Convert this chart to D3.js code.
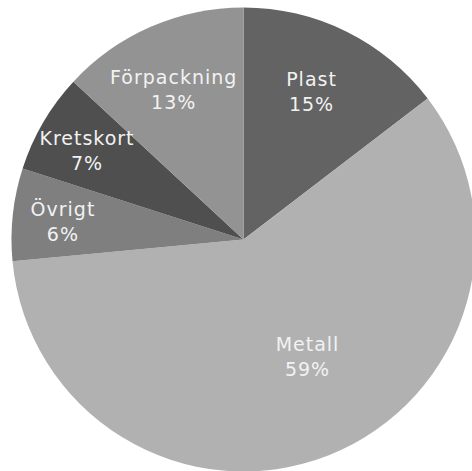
<!DOCTYPE html>
<html>
<head>
<meta charset="utf-8">
<script src="https://cdn.jsdelivr.net/npm/d3@7"></script>
<style>
html, body { margin: 0; padding: 0; background: #ffffff; overflow: hidden; }
svg { display: block; }
</style>
</head>
<body>
<script>
const categories = ["Plast", "Metall", "Övrigt", "Kretskort", "Förpackning"];
const values = [14.6, 58.9, 6.45, 6.95, 13.1];
const colors = ["#636363", "#b1b1b1", "#7f7f7f", "#4f4f4f", "#939393"];

const W = 472, H = 471;
const cx = 243.5, cy = 239.5, R = 232;

const svg = d3.select("body").append("svg").attr("width", W).attr("height", H);
const g = svg.append("g").attr("transform", `translate(${cx},${cy})`);

const data = categories.map((c, i) => ({ name: c, value: values[i], color: colors[i] }));
const total = d3.sum(values);

const pie = d3.pie().value(d => d.value).sort(null);
const arcs = pie(data);
const arc = d3.arc().innerRadius(0).outerRadius(R);

g.selectAll("path.slice").data(arcs).enter().append("path")
  .attr("class", "slice")
  .attr("d", arc)
  .attr("fill", d => d.data.color);

const fmt = v => Math.round(v / total * 100) + "%";

const labels = g.selectAll("g.label").data(arcs).enter().append("g")
  .attr("class", "label")
  .attr("transform", d => {
    const pct = d.data.value / total * 100;
    const rr = R * (0.565 + 0.32 * Math.exp(-pct / 17));
    const span = d.endAngle - d.startAngle;
    const a = (d.startAngle + d.endAngle) / 2 - 0.033 * span;
    return `translate(${rr * Math.sin(a)},${-rr * Math.cos(a)})`;
  });

labels.each(function(d) {
  const t = d3.select(this).append("text")
    .attr("text-anchor", "middle")
    .attr("fill", "#f2f2f2")
    .style("font-family", "'DejaVu Sans', Verdana, sans-serif")
    .style("font-size", "19px")
    .style("letter-spacing", "1px");
  t.append("tspan").attr("x", 0.5).attr("y", -6).text(d.data.name);
  t.append("tspan").attr("x", 0.5).attr("y", 19).text(fmt(d.data.value));
});
</script>
</body>
</html>
